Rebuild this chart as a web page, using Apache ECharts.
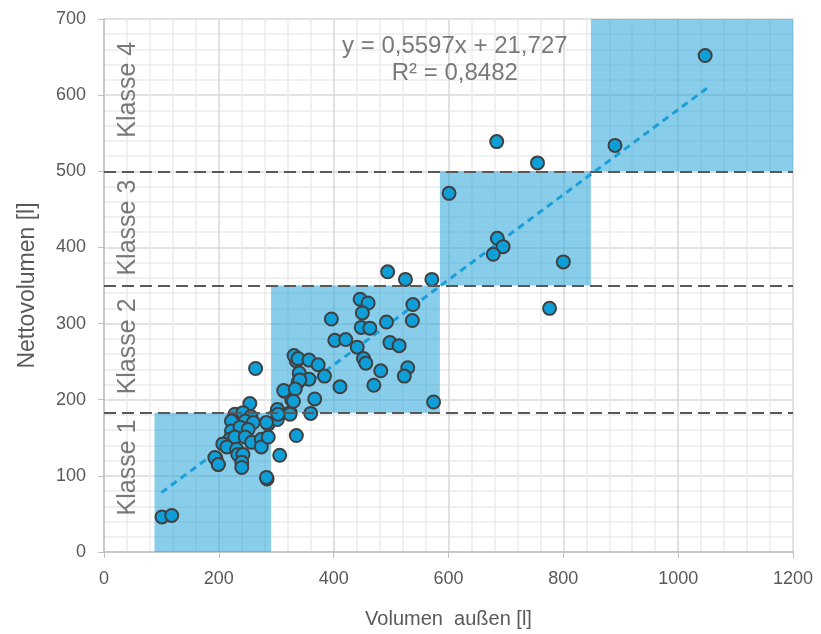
<!DOCTYPE html>
<html><head><meta charset="utf-8">
<script src="https://cdn.jsdelivr.net/npm/echarts@6/dist/echarts.min.js"></script>
<style>html,body{margin:0;padding:0;background:#fff}#c{width:821px;height:634px}</style>
</head><body><div id="c"></div>
<script>
// Volumen außen [l]
const volAussen = [101,118,195,199,284,306,264,254,228,242,256,222,246,260,222,237,251,219,228,246,257,274,274,286,207,214,231,233,242,240,240,193,199,283,335,286,303,302,324,315,327,338,341,335,
446,460,450,396,448,463,492,538,537,402,421,441,498,514,452,456,482,529,523,411,470,574,331,338,357,373,384,340,357,341,313,333,330,367,360,324,302,303,283,
494,525,571,755,601,685,695,678,800,776,890,684,1047];
// Nettovolumen [l]
const nettoVol = [46,48,123,115,96,127,241,195,181,183,178,172,172,170,159,164,161,148,151,151,144,148,138,151,142,138,135,128,128,118,111,124,115,98,153,168,183,174,183,211,200,223,233,251,
332,327,314,306,295,294,302,325,304,278,279,269,275,271,254,248,238,242,231,217,219,197,258,254,252,246,231,235,227,226,212,214,198,201,182,181,187,181,170,
368,358,358,511,471,412,401,391,381,320,534,539,652];
// Klassen boundaries
const klasseNames = ['Klasse 1','Klasse 2','Klasse 3','Klasse 4'];
const klasseX = [[88,291],[291,585],[585,848],[848,1200]];
const klasseY = [[0,183],[183,350],[350,500],[500,700]];
const klasseGrenzen = [183,350,500];
const klasseLabelPos = [[42,111],[42,270],[42,426],[42,607]];
// Trendline endpoints
const trendX = [100,1050];
const trendY = [78,609];
const eqText = ['y = 0,5597x + 21,727','R² = 0,8482'];
const eqPos = [[611,664],[611,629]];

const FONT = 'Liberation Sans, Arial, sans-serif';
const txt = '#595959';
const chart = echarts.init(document.getElementById('c'), null, {renderer:'canvas'});
const pts = volAussen.map((v,i)=>[v,nettoVol[i]]);
chart.setOption({
  animation:false,
  grid:{left:104,right:28,top:19,bottom:81,containLabel:false},
  xAxis:{type:'value',min:0,max:1200,interval:200,
    name:'Volumen  außen [l]',nameLocation:'middle',nameGap:57,
    nameTextStyle:{color:txt,fontSize:20,fontFamily:FONT},
    axisLine:{show:true,lineStyle:{color:'#bfbfbf',width:1.5}},
    axisTick:{show:true,length:6,lineStyle:{color:'#bfbfbf'}},
    axisLabel:{color:txt,fontSize:18,fontFamily:FONT,margin:18,formatter:v=>String(v)},
    splitLine:{show:true,lineStyle:{color:'#d9d9d9',width:1.5}},
    minorTick:{show:false,splitNumber:5},
    minorSplitLine:{show:true,lineStyle:{color:'#ececec',width:1.5}}
  },
  yAxis:{type:'value',min:0,max:700,interval:100,
    name:'Nettovolumen [l]',nameLocation:'middle',nameGap:65,
    nameTextStyle:{color:txt,fontSize:23,fontFamily:FONT},
    axisLine:{show:true,lineStyle:{color:'#bfbfbf',width:1.5}},
    axisTick:{show:true,length:6,lineStyle:{color:'#bfbfbf'}},
    axisLabel:{color:txt,fontSize:18,fontFamily:FONT,margin:18,formatter:v=>String(v)},
    splitLine:{show:true,lineStyle:{color:'#d9d9d9',width:1.5}},
    minorTick:{show:false,splitNumber:5},
    minorSplitLine:{show:true,lineStyle:{color:'#ececec',width:1.5}}
  },
  series:[
    {type:'scatter',data:[],silent:true,
      markArea:{silent:true,itemStyle:{color:'rgba(30,160,215,0.53)'},
        data:klasseX.map((xr,i)=>[{xAxis:xr[0],yAxis:klasseY[i][0]},{xAxis:xr[1],yAxis:klasseY[i][1]}])},
      markLine:{silent:true,symbol:'none',label:{show:false},
        lineStyle:{color:'#595959',width:2,type:[12,6]},
        data:klasseGrenzen.map(v=>({yAxis:v}))}
    },
    {type:'line',data:trendX.map((v,i)=>[v,trendY[i]]),showSymbol:false,symbol:'none',
      lineStyle:{color:'#1a9fd8',width:3,type:[7,5]},z:3},
    {type:'scatter',data:pts,symbol:'circle',symbolSize:13,z:4,
      itemStyle:{color:'#0f9fd8',borderColor:'#404040',borderWidth:2,opacity:1}},
    {type:'scatter',data:klasseLabelPos.map((p,i)=>({value:p,name:klasseNames[i]})),symbolSize:0,z:5,
      label:{show:true,position:'inside',rotate:90,formatter:'{b}',color:txt,fontSize:25,fontFamily:FONT}},
    {type:'scatter',data:eqPos.map((p,i)=>({value:p,name:eqText[i]})),symbolSize:0,z:5,
      label:{show:true,position:'inside',formatter:'{b}',color:txt,fontSize:24,fontFamily:FONT}}
  ]
});
</script></body></html>
